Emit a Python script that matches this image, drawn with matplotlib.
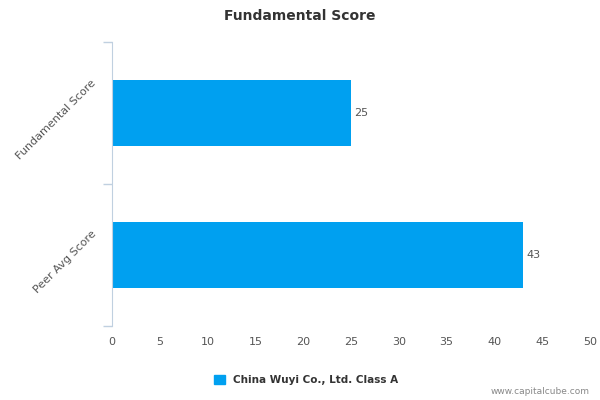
import matplotlib
matplotlib.use("Agg")
import matplotlib.pyplot as plt
import matplotlib.patches as mpatches
import matplotlib.transforms as mtransforms

categories = ["Fundamental Score", "Peer Avg Score"]
values = [25, 43]
series_name = "China Wuyi Co., Ltd. Class A"
xticks = [0, 5, 10, 15, 20, 25, 30, 35, 40, 45, 50]

bar_color = "#00A0F0"
axis_color = "#C0D0E0"
text_color = "#555555"

fig = plt.figure(figsize=(6, 4), dpi=100)
ax = fig.add_axes([0.1867, 0.185, 0.7967, 0.71])

pos = list(range(len(categories)))
ax.barh(pos, values, height=0.47, color=bar_color)
for p, v in zip(pos, values):
    ax.text(v + 0.3, p, str(v), va="center", ha="left", fontsize=8, color=text_color)

ax.set_xlim(0, 50)
ax.set_ylim(len(categories) - 0.5, -0.5)
ax.set_xticks(xticks)
ax.set_xticklabels([str(t) for t in xticks], fontsize=8, color=text_color)
ax.tick_params(axis="x", length=0, pad=8)

ax.set_yticks(pos)
ax.set_yticklabels(categories, rotation=45, ha="right", va="center",
                   rotation_mode="default", fontsize=8, color=text_color)
ax.tick_params(axis="y", which="major", length=0, pad=10)
ax.set_yticks([-0.5, 0.5, 1.5], minor=True)
ax.tick_params(axis="y", which="minor", length=6.5, color=axis_color, width=1)

# nudge category labels down a little
offset = mtransforms.ScaledTranslation(0, -5 / 72, fig.dpi_scale_trans)
for lbl in ax.get_yticklabels():
    lbl.set_transform(lbl.get_transform() + offset)

for s in ["top", "right", "bottom"]:
    ax.spines[s].set_visible(False)
ax.spines["left"].set_color(axis_color)

fig.text(0.5, 0.96, "Fundamental Score", ha="center", va="center",
         fontsize=10, fontweight="bold", color="#333333")

handle = mpatches.Patch(color=bar_color, label=series_name)
leg = fig.legend(handles=[handle], loc="center", bbox_to_anchor=(0.51, 0.05),
                 frameon=False, handlelength=1.1, handleheight=0.9,
                 prop={"size": 7.5, "weight": "bold"})
for t in leg.get_texts():
    t.set_color("#333333")

fig.text(0.983, 0.022, "www.capitalcube.com", ha="right", va="center",
         fontsize=6.5, color="#888888")

fig.savefig("out.png", dpi=100)
